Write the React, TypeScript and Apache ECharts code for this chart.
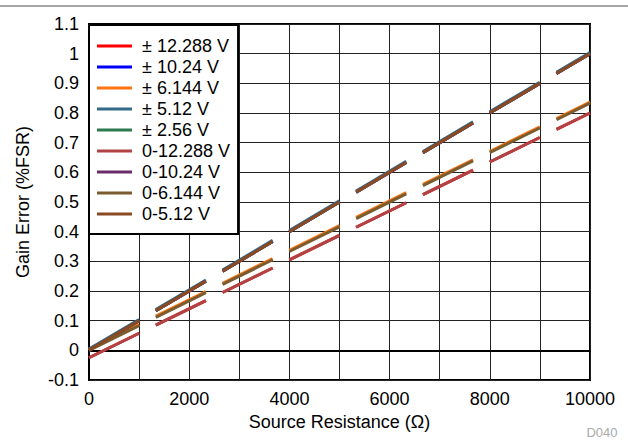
import React, { useEffect, useRef } from "react";
import * as echarts from "echarts";

// Source resistance (ohm) at the two ends of each measured line
const resistance = [0, 10000];

const seriesNames = [
  "± 12.288 V",
  "± 10.24 V",
  "± 6.144 V",
  "± 5.12 V",
  "± 2.56 V",
  "0-12.288 V",
  "0-10.24 V",
  "0-6.144 V",
  "0-5.12 V",
];

// Gain error (%FSR) at 0 ohm and 10000 ohm
const pm12288 = [-0.025, 0.8];
const pm1024 = [0.0, 1.0];
const pm6144 = [0.004, 0.837];
const pm512 = [0.004, 1.004];
const pm256 = [0.0, 1.0];
const u12288 = [-0.025, 0.8];
const u1024 = [0.0, 1.0];
const u6144 = [0.0, 0.833];
const u512 = [0.0, 1.0];

const seriesValues = [pm12288, pm1024, pm6144, pm512, pm256, u12288, u1024, u6144, u512];

const seriesColors = [
  "#ff0000",
  "#0000ff",
  "#ff7410",
  "#336a88",
  "#2d7a50",
  "#b04444",
  "#6a2c6a",
  "#7a5c30",
  "#8a4a22",
];

const xTicks = [0, 2000, 4000, 6000, 8000, 10000];

const FONT = "'Liberation Sans', Arial, Helvetica, sans-serif";

export default function App() {
  const ref = useRef<HTMLDivElement>(null);

  useEffect(() => {
    document.body.style.margin = "0";
    if (!ref.current) return;
    const chart = echarts.init(ref.current, undefined, { renderer: "svg" });

    const gridLeft = 89;
    const gridRight = 38;
    const gridTop = 24;
    const gridBottom = 65;
    const plotW = 628 - gridLeft - gridRight;
    const plotH = 445 - gridTop - gridBottom;
    const xRange = 10000;
    const yRange = 1.2;

    const series = seriesNames.map((name, i) => {
      const vals = seriesValues[i];
      const dx = plotW;
      const dy = ((vals[1] - vals[0]) / yRange) * plotH;
      const factor = Math.sqrt(dx * dx + dy * dy) / dx;
      const unit = plotW / xRange;
      const dash = 1000 * unit * factor;
      const gap = 333 * unit * factor;
      return {
        name,
        type: "line",
        symbol: "none",
        data: resistance.map((r, j) => [r, vals[j]]),
        lineStyle: {
          color: seriesColors[i],
          width: 3,
          type: [dash, gap],
          cap: "butt",
        },
        itemStyle: { color: seriesColors[i] },
      };
    });

    chart.setOption({
      animation: false,
      backgroundColor: "#ffffff",
      textStyle: { fontFamily: FONT },
      grid: {
        left: gridLeft,
        right: gridRight,
        top: gridTop,
        bottom: gridBottom,
        show: true,
        borderColor: "#000",
        borderWidth: 2,
        backgroundColor: "transparent",
      },
      xAxis: {
        type: "value",
        min: 0,
        max: 10000,
        interval: 1000,
        name: "Source Resistance (Ω)",
        nameLocation: "middle",
        nameGap: 33,
        nameTextStyle: { fontSize: 18, color: "#000", fontFamily: FONT },
        axisLine: { show: true, lineStyle: { color: "#000", width: 2 } },
        axisTick: { show: false },
        axisLabel: {
          fontSize: 18,
          color: "#000",
          margin: 10,
          fontFamily: FONT,
          formatter: (v: number) => (xTicks.includes(v) ? String(v) : ""),
        },
        splitLine: { show: true, lineStyle: { color: "#222", width: 1 } },
      },
      yAxis: {
        type: "value",
        min: -0.1,
        max: 1.1,
        interval: 0.1,
        name: "Gain Error (%FSR)",
        nameLocation: "middle",
        nameGap: 57,
        nameTextStyle: { fontSize: 18, color: "#000", fontFamily: FONT },
        axisLine: { show: true, lineStyle: { color: "#000", width: 2 } },
        axisTick: { show: false },
        axisLabel: {
          fontSize: 18,
          color: "#000",
          margin: 10,
          fontFamily: FONT,
          formatter: (v: number) => String(Math.round(v * 10) / 10),
        },
        splitLine: { show: true, lineStyle: { color: "#222", width: 1 } },
      },
      legend: {
        show: true,
        orient: "vertical",
        left: 89,
        top: 25,
        data: seriesNames.map((n) => ({ name: n, icon: "rect" })),
        backgroundColor: "#ffffff",
        borderColor: "#000",
        borderWidth: 2,
        borderRadius: 0,
        padding: [12, 8, 11, 8],
        itemWidth: 35,
        itemHeight: 3,
        itemGap: 3,
        textStyle: {
          fontSize: 18,
          color: "#000",
          fontFamily: FONT,
          padding: [0, 0, 0, 5],
          lineHeight: 18,
        },
      },
      graphic: [
        {
          type: "line",
          shape: { x1: 0, y1: 6, x2: 628, y2: 6 },
          style: { stroke: "#888", lineWidth: 1.5 },
          silent: true,
        },
        {
          type: "text",
          x: 602,
          y: 432,
          style: {
            text: "D040",
            fill: "#aaa",
            fontSize: 13,
            fontFamily: FONT,
            align: "center",
            verticalAlign: "middle",
          },
          silent: true,
        },
      ],
      series,
    });

    return () => {
      chart.dispose();
    };
  }, []);

  return <div ref={ref} style={{ width: 628, height: 445 }} />;
}
